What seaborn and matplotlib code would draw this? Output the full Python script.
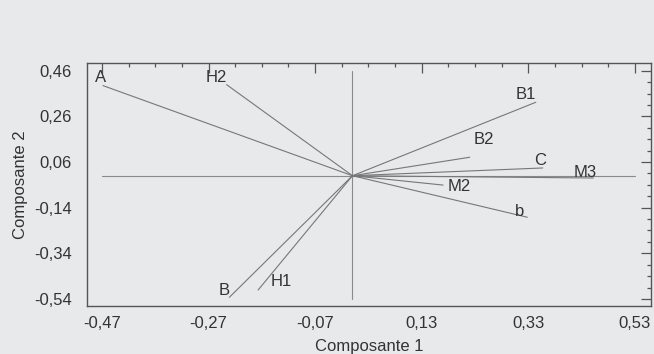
import numpy as np
import pandas as pd
import matplotlib
matplotlib.use("Agg")
import matplotlib.pyplot as plt
from matplotlib.ticker import FixedLocator, FixedFormatter
import seaborn as sns

# Data: loading vectors (Composante 1, Composante 2)
variables = ["A", "H2", "B1", "B2", "C", "M3", "M2", "b", "B", "H1"]
comp1 = [-0.468, -0.236, 0.344, 0.220, 0.357, 0.452, 0.170, 0.328, -0.231, -0.177]
comp2 = [0.395, 0.399, 0.322, 0.081, 0.034, -0.010, -0.041, -0.182, -0.533, -0.501]
xticks = [-0.47, -0.27, -0.07, 0.13, 0.33, 0.53]
yticks = [-0.54, -0.34, -0.14, 0.06, 0.26, 0.46]

# label offsets (pixels) relative to vector tip
label_offsets = {"A": (-2, 8), "H2": (-10, 7), "B1": (-10, 8), "B2": (14, 18),
                 "C": (-3, 7), "M3": (-8, 6), "M2": (16, -1), "b": (-8, 6),
                 "B": (-5, 7), "H1": (23, 9)}

rows = []
for v, x, y in zip(variables, comp1, comp2):
    rows.append({"var": v, "x": 0.0, "y": 0.0, "o": 0})
    rows.append({"var": v, "x": x, "y": y, "o": 1})
df = pd.DataFrame(rows)

sns.set_theme(style="white")
plt.rcParams["font.family"] = ["Liberation Sans", "DejaVu Sans"]

bg = "#e8e9eb"
txt = "#333333"
fs = 12
fig = plt.figure(figsize=(6.54, 3.54), dpi=100, facecolor=bg)
ax = fig.add_axes([0.133, 0.1356, 0.8624, 0.6864])
ax.set_facecolor(bg)

# cross lines through origin
ax.plot([xticks[0], xticks[-1]], [0, 0], color="#8a8a8a", lw=0.8, zorder=1)
ax.plot([0, 0], [yticks[0], yticks[-1]], color="#8a8a8a", lw=0.8, zorder=1)

sns.lineplot(data=df, x="x", y="y", units="var", estimator=None, sort=False,
             color="#777777", lw=0.8, ax=ax, legend=False)

for v, x, y in zip(variables, comp1, comp2):
    dx, dy = label_offsets[v]
    ax.annotate(v, (x, y), xytext=(dx, dy), textcoords="offset pixels",
                ha="center", va="center", fontsize=fs, color=txt)

ax.set_xlim(-0.498, 0.560)
ax.set_ylim(-0.571, 0.494)

ax.xaxis.set_major_locator(FixedLocator(xticks))
ax.xaxis.set_major_formatter(FixedFormatter([f"{t:.2f}".replace(".", ",") for t in xticks]))
ax.yaxis.set_major_locator(FixedLocator(yticks))
ax.yaxis.set_major_formatter(FixedFormatter([f"{t:.2f}".replace(".", ",") for t in yticks]))
ax.xaxis.set_minor_locator(FixedLocator(np.round(np.arange(-0.47, 0.56, 0.05), 3)))
ax.yaxis.set_minor_locator(FixedLocator(np.round(np.arange(-0.54, 0.49, 0.05), 3)))

ax.tick_params(which="both", direction="in", top=True, right=True, colors="#555555",
               labelcolor=txt, labelsize=fs)
ax.tick_params(which="major", length=7, width=0.9)
ax.tick_params(which="minor", length=3, width=0.9)
ax.tick_params(axis="y", which="major", pad=11)
ax.tick_params(axis="x", which="major", pad=7)

for s in ax.spines.values():
    s.set_color("#555555")
    s.set_linewidth(1.0)

ax.set_xlabel("Composante 1", fontsize=fs, color=txt, labelpad=6)
ax.set_ylabel("Composante 2", fontsize=fs, color=txt, labelpad=4)

fig.savefig("out.png", dpi=100, facecolor=bg)
